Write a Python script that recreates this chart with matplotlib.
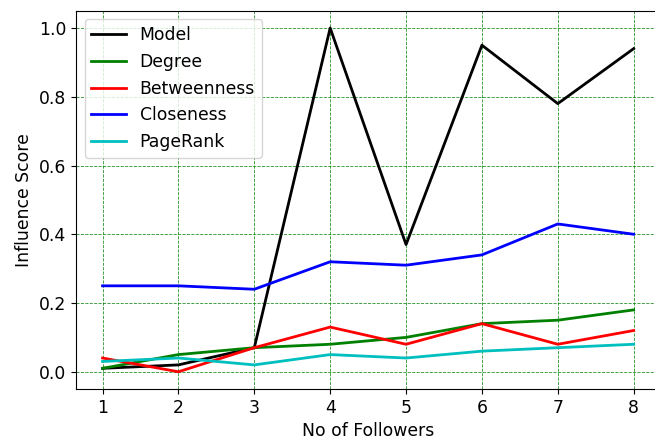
import matplotlib
matplotlib.use('Agg')
import matplotlib.pyplot as plt

followers = [1, 2, 3, 4, 5, 6, 7, 8]
model = [0.01, 0.02, 0.07, 1.0, 0.37, 0.95, 0.78, 0.94]
degree = [0.01, 0.05, 0.07, 0.08, 0.10, 0.14, 0.15, 0.18]
betweenness = [0.04, 0.0, 0.07, 0.13, 0.08, 0.14, 0.08, 0.12]
closeness = [0.25, 0.25, 0.24, 0.32, 0.31, 0.34, 0.43, 0.40]
pagerank = [0.03, 0.04, 0.02, 0.05, 0.04, 0.06, 0.07, 0.08]

plt.rcParams['font.size'] = 12.4
fig, ax = plt.subplots(figsize=(6.55, 4.43), dpi=100)
fig.subplots_adjust(left=0.116, right=1.008, top=0.9756, bottom=0.122)

ax.plot(followers, model, color='k', lw=2, label='Model')
ax.plot(followers, degree, color='g', lw=2, label='Degree')
ax.plot(followers, betweenness, color='r', lw=2, label='Betweenness')
ax.plot(followers, closeness, color='b', lw=2, label='Closeness')
ax.plot(followers, pagerank, color='c', lw=2, label='PageRank')

# dashed green grid
ax.grid(True, color='g', linestyle='--', linewidth=0.6, alpha=0.85)
ax.set_xlabel('No of Followers')
ax.set_ylabel('Influence Score')
ax.legend(loc='upper left')

plt.savefig('out.png')
